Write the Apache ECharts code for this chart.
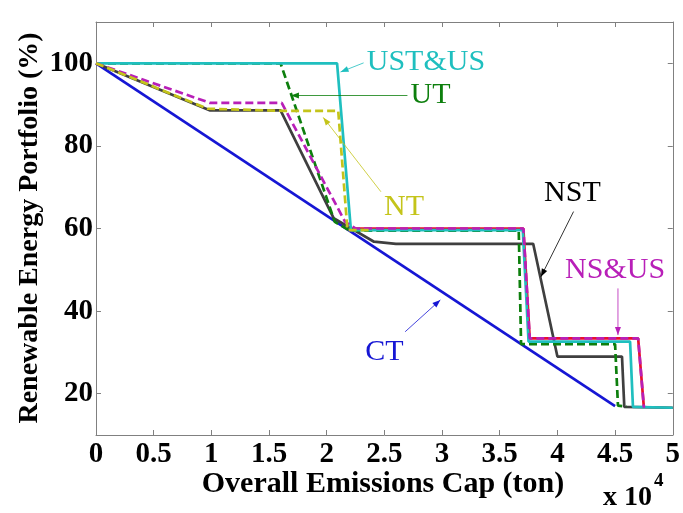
<!DOCTYPE html>
<html>
<head>
<meta charset="utf-8">
<script src="https://cdn.jsdelivr.net/npm/echarts@6/dist/echarts.min.js"></script>
<style>
html,body{margin:0;padding:0;background:#fff;}
#chart{width:683px;height:513px;}
</style>
</head>
<body>
<div id="chart"></div>
<script>
// x values in units of 10^4 ton, y values in %
var xTicks = [0, 0.5, 1, 1.5, 2, 2.5, 3, 3.5, 4, 4.5, 5];
var yTicks = [20, 40, 60, 80, 100];

var ctData = [[0, 100], [4.5, 17]];
var ustData = [[0, 100], [2.09, 100], [2.21, 59.6], [3.70, 59.6], [3.75, 32.6], [4.63, 32.6], [4.655, 16.8], [5, 16.6]];
var utData = [[0, 100], [1.6, 100], [2.07, 61.6], [2.2, 59.5], [3.665, 59.5], [3.685, 32.0], [4.50, 32.0], [4.525, 17.1], [4.6, 16.9]];
var ntData = [[0, 100], [0.97, 89], [1.62, 88.5], [2.10, 88.5], [2.18, 59.6], [2.4, 59.6]];
var nsusData = [[0, 100], [0.99, 90.4], [1.61, 90.4], [2.16, 61.6], [2.25, 60], [3.705, 60], [3.76, 33.4], [4.70, 33.4], [4.75, 16.6]];
var nsusRedData = [[2.25, 60], [3.705, 60], [3.76, 33.4], [4.70, 33.4], [4.75, 16.6]];
var nstData = [[0, 100], [0.99, 88.6], [1.60, 88.6], [2.06, 62.5], [2.41, 56.8], [2.6, 56.3], [3.79, 56.3], [4.0, 29.0], [4.56, 29.0], [4.58, 16.8], [5, 16.6]];

var FONT = 'Liberation Serif';
var chart = echarts.init(document.getElementById('chart'), null, {renderer: 'canvas'});

function lineSeries(name, data, color, dashed, width, z) {
  return {
    name: name, type: 'line', data: data, symbol: 'none', z: z,
    lineStyle: {color: color, width: width, type: dashed ? [8, 4] : 'solid'},
    animation: false
  };
}

var axisLineStyle = {color: '#808080', width: 1};

chart.setOption({
  animation: false,
  backgroundColor: '#fff',
  grid: {left: 96, right: 8, top: 22, bottom: 78, containLabel: false},
  xAxis: [{
    type: 'value', min: 0, max: 5, interval: 0.5, position: 'bottom',
    axisLine: {show: true, onZero: false, lineStyle: axisLineStyle},
    axisTick: {show: true, inside: true, length: 5, lineStyle: axisLineStyle},
    splitLine: {show: false},
    axisLabel: {color: '#000', fontFamily: FONT, fontWeight: 'bold', fontSize: 29, margin: 5,
      formatter: function (v) { return String(v); }}
  }, {
    type: 'value', min: 0, max: 5, interval: 0.5, position: 'top',
    axisLine: {show: true, onZero: false, lineStyle: axisLineStyle},
    axisTick: {show: true, inside: true, length: 5, lineStyle: axisLineStyle},
    splitLine: {show: false}, axisLabel: {show: false}
  }],
  yAxis: [{
    type: 'value', min: 10, max: 110, position: 'left',
    axisLine: {show: true, onZero: false, lineStyle: axisLineStyle},
    axisTick: {show: true, inside: true, length: 5, lineStyle: axisLineStyle, customValues: yTicks},
    splitLine: {show: false},
    axisLabel: {color: '#000', fontFamily: FONT, fontWeight: 'bold', fontSize: 29, margin: 3, customValues: yTicks}
  }, {
    type: 'value', min: 10, max: 110, position: 'right',
    axisLine: {show: true, onZero: false, lineStyle: axisLineStyle},
    axisTick: {show: true, inside: true, length: 5, lineStyle: axisLineStyle, customValues: yTicks},
    splitLine: {show: false}, axisLabel: {show: false, customValues: yTicks}
  }],
  series: [
    lineSeries('CT', ctData, '#1616d4', false, 2.7, 2),
    lineSeries('NST', nstData, '#3f3f3f', false, 2.7, 3),
    lineSeries('UT', utData, '#0d7f0d', true, 2.7, 4),
    lineSeries('NS&US red', nsusRedData, '#e8102c', false, 2.7, 5),
    lineSeries('UST&US', ustData, '#1fbfbf', false, 2.7, 6),
    lineSeries('NS&US', nsusData, '#b81fb8', true, 2.7, 7),
    lineSeries('NT', ntData, '#c4c41a', true, 2.7, 8)
  ]
});

// Annotations (text + arrow), positioned in data coordinates
var notes = [
  {text: 'UST&US', color: '#1fbfbf', at: [2.86, 100.3], from: [2.32, 100.1], to: [2.12, 97.9]},
  {text: 'UT', color: '#0d7f0d', at: [2.90, 92.3], from: [2.70, 92.2], to: [1.69, 92.2]},
  {text: 'NT', color: '#c4c41a', at: [2.67, 65.2], from: [2.47, 68.9], to: [1.97, 86.9]},
  {text: 'NST', color: '#000000', at: [4.13, 68.5], from: [4.14, 64.1], to: [3.857, 48.3]},
  {text: 'NS&US', color: '#b81fb8', at: [4.50, 50.0], from: [4.525, 45.5], to: [4.525, 34.2]},
  {text: 'CT', color: '#1616d4', at: [2.50, 30.1], from: [2.68, 35.0], to: [2.985, 42.7]}
];

var graphics = [];
notes.forEach(function (n) {
  var p = chart.convertToPixel({gridIndex: 0}, n.at);
  var a = chart.convertToPixel({gridIndex: 0}, n.from);
  var b = chart.convertToPixel({gridIndex: 0}, n.to);
  graphics.push({
    type: 'text', x: p[0], y: p[1], z: 20,
    style: {text: n.text, fill: n.color, font: '30px "' + FONT + '"', align: 'center', verticalAlign: 'middle'}
  });
  graphics.push({
    type: 'line', z: 20,
    shape: {x1: a[0], y1: a[1], x2: b[0], y2: b[1]},
    style: {stroke: n.color, lineWidth: 0.8}
  });
  var ang = Math.atan2(b[1] - a[1], b[0] - a[0]);
  var L = 8, W = 3;
  var bx = b[0] - L * Math.cos(ang), by = b[1] - L * Math.sin(ang);
  graphics.push({
    type: 'polygon', z: 20,
    shape: {points: [[b[0], b[1]], [bx + W * Math.sin(ang), by - W * Math.cos(ang)], [bx - W * Math.sin(ang), by + W * Math.cos(ang)]]},
    style: {fill: n.color}
  });
});

// Axis titles and exponent
graphics.push({
  type: 'text', x: 383, y: 484, z: 20,
  style: {text: 'Overall Emissions Cap (ton)', fill: '#000', font: 'bold 30px "' + FONT + '"', align: 'center', verticalAlign: 'middle'}
});
graphics.push({
  type: 'text', x: 30, y: 228, rotation: Math.PI / 2, z: 20,
  style: {text: 'Renewable Energy Portfolio (%)', fill: '#000', font: 'bold 28px "' + FONT + '"', align: 'center', verticalAlign: 'middle'}
});
graphics.push({
  type: 'text', x: 652, y: 498, z: 20,
  style: {text: 'x 10', fill: '#000', font: 'bold 28px "' + FONT + '"', align: 'right', verticalAlign: 'middle'}
});
graphics.push({
  type: 'text', x: 654, y: 481, z: 20,
  style: {text: '4', fill: '#000', font: 'bold 19px "' + FONT + '"', align: 'left', verticalAlign: 'middle'}
});

chart.setOption({graphic: graphics});
</script>
</body>
</html>
